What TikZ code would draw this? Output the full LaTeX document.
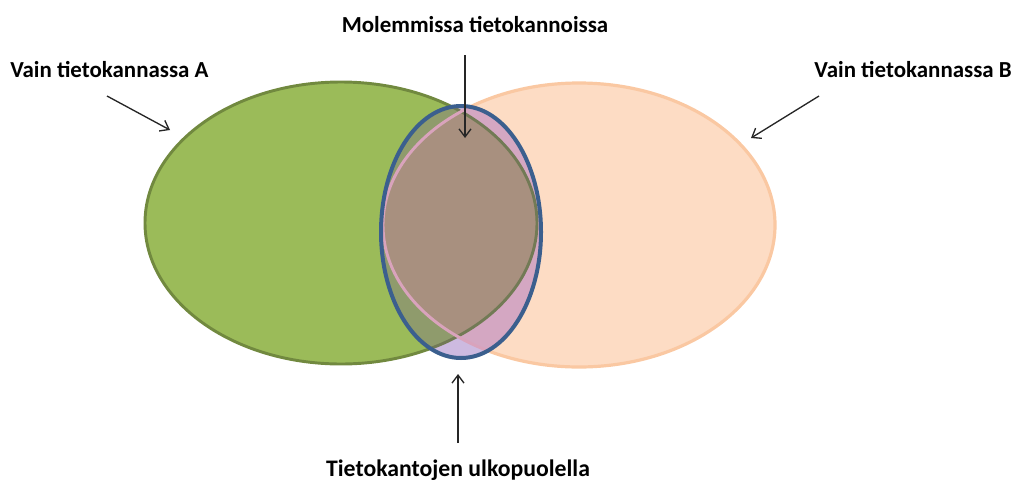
\documentclass[tikz,border=0pt]{standalone}
\usepackage{fontspec}
\setmainfont{Carlito}
\usetikzlibrary{arrows.meta}
\definecolor{gfill}{HTML}{9BBB59}
\definecolor{gline}{HTML}{71893F}
\definecolor{pfill}{HTML}{FDDCC4}
\definecolor{pline}{HTML}{FAC8A2}
\definecolor{lav}{HTML}{CDBAE0}
\definecolor{pinkin}{HTML}{D4A7C2}
\definecolor{olivein}{HTML}{8F9B6C}
\definecolor{brownin}{HTML}{A8907F}
\definecolor{plinein}{HTML}{D9A3BC}
\definecolor{glinein}{HTML}{727A55}
\definecolor{blueline}{HTML}{3B5F8E}
\definecolor{arrowc}{HTML}{262626}
\tikzset{
  lbl/.style={font=\bfseries\fontsize{17.2pt}{20pt}\selectfont, text=black, inner sep=0pt},
  biglbl/.style={font=\bfseries\fontsize{17.8pt}{20pt}\selectfont, text=black, inner sep=0pt},
  pointer/.style={draw=arrowc, line width=1pt, -{Straight Barb[length=6pt,width=9pt,line width=1pt]}},
}
\begin{document}
\begin{tikzpicture}[x=0.75pt,y=-0.75pt]
\useasboundingbox (0,0) rectangle (1016,482);
\def\ellA{(341,223) ellipse [x radius=196, y radius=141]}
\def\ellB{(579,225) ellipse [x radius=196, y radius=142]}
\def\ellC{(461,232) ellipse [x radius=80, y radius=126]}
% base fills
\fill[gfill] \ellA;
\fill[pfill] \ellB;
% borders outside blue
\draw[gline, line width=2.2pt] \ellA;
\draw[pline, line width=2.4pt] \ellB;
\begin{scope}
  \clip \ellA;
  \draw[pline, line width=2.4pt] \ellB;
\end{scope}
% regions inside blue
\begin{scope}
  \clip \ellC;
  \fill[lav] \ellC;
  \fill[olivein] \ellA;
  \fill[pinkin] \ellB;
  \begin{scope}
    \clip \ellA;
    \fill[brownin] \ellB;
  \end{scope}
  \draw[glinein, line width=2.2pt] \ellA;
  \draw[plinein, line width=2.2pt] \ellB;
\end{scope}
\draw[blueline, line width=3pt] \ellC;
% labels
\node[lbl, anchor=base west] (la) at (10,77) {Vain tietokannassa A};
\node[lbl, anchor=base east] (lb) at (1012,77) {Vain tietokannassa B};
\node[lbl, anchor=base] (lm) at (475,32) {Molemmissa tietokannoissa};
\node[biglbl, anchor=base] (lo) at (458,476) {Tietokantojen ulkopuolella};
% arrow endpoints
\coordinate (a1) at (107,96);
\coordinate (a2) at (170,130);
\coordinate (b1) at (819,96);
\coordinate (b2) at (751,138);
\coordinate (m1) at (465,55);
\coordinate (m2) at (465,138);
\coordinate (o1) at (458,443);
\coordinate (o2) at (458,374);
\draw[pointer] (a1) -- (a2);
\draw[pointer] (b1) -- (b2);
\draw[pointer] (m1) -- (m2);
\draw[pointer] (o1) -- (o2);
\end{tikzpicture}
\end{document}
